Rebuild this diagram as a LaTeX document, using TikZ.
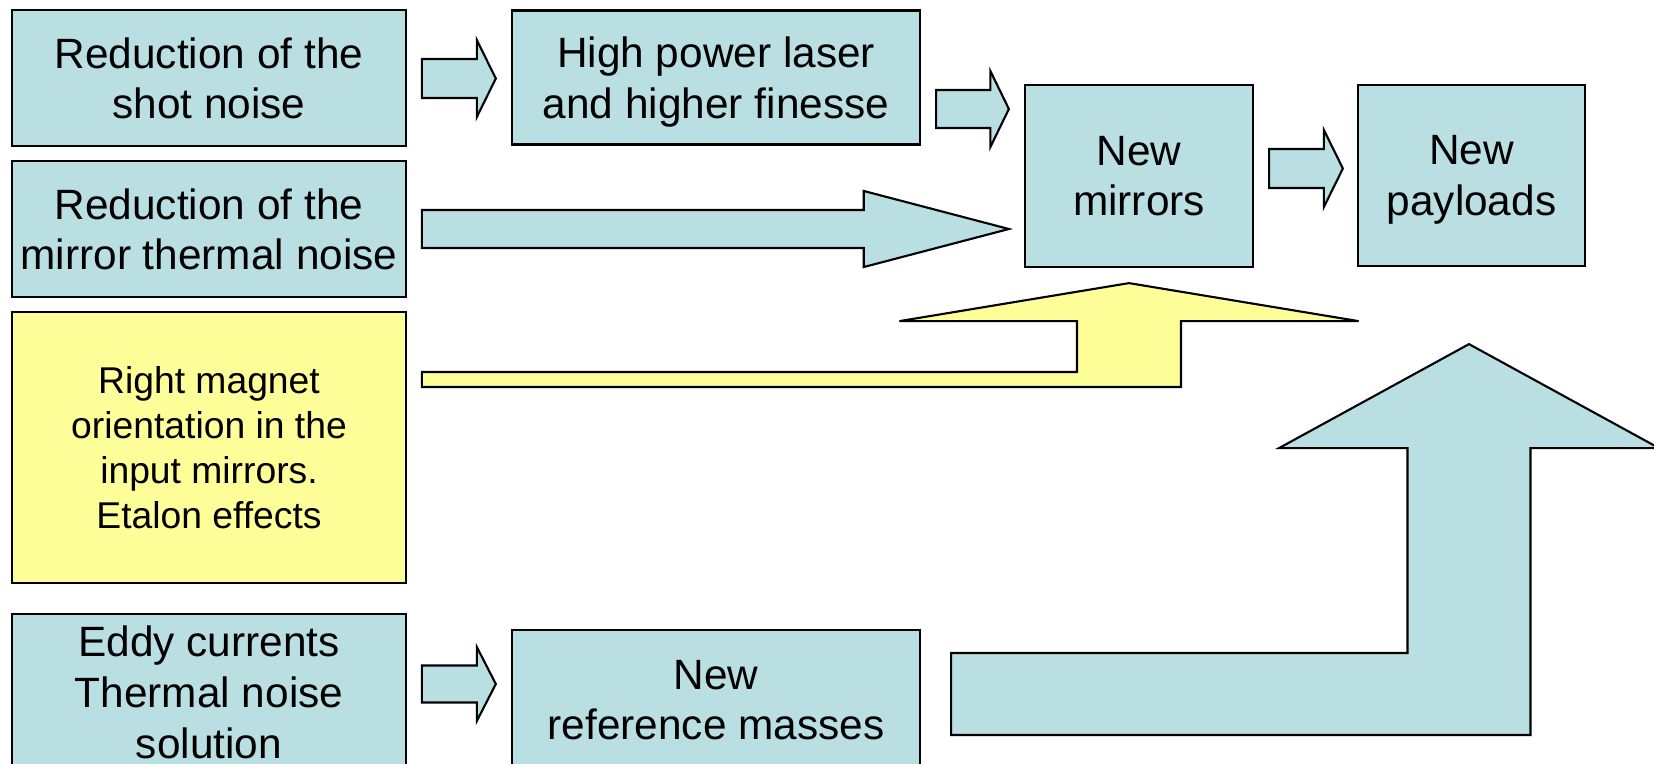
\documentclass[tikz,border=0pt]{standalone}
\usepackage{fontspec}
\setmainfont{Liberation Sans}
\usetikzlibrary{calc}
\definecolor{boxblue}{RGB}{186,223,226}
\definecolor{boxyellow}{RGB}{255,255,153}
\tikzset{
  outl/.style={draw=black, line width=0.6pt, line join=miter},
  bluebox/.style={outl, fill=boxblue, rectangle, align=center, inner xsep=0pt,
     text depth=-1.2pt, font=\fontsize{12.05}{14.4}\selectfont},
  yellowbox/.style={outl, fill=boxyellow, rectangle, align=center, inner xsep=0pt,
     text depth=-1.4pt, font=\fontsize{10.6}{12.8}\selectfont},
  bluearrow/.style={outl, fill=boxblue},
  yellowarrow/.style={outl, fill=boxyellow},
}
% #1 start coordinate, #2 end coordinate (x used), #3 shaft half, #4 head half, #5 head length, #6 style
\newcommand{\blockarr}[6]{%
  \draw[#6] let \p1=(#1), \p2=(#2) in
   (\x1,\y1+#3) -- (\x2-#5,\y1+#3) -- (\x2-#5,\y1+#4) -- (\x2,\y1)
   -- (\x2-#5,\y1-#4) -- (\x2-#5,\y1-#3) -- (\x1,\y1-#3) -- cycle;}
\begin{document}
\begin{tikzpicture}[x=0.01cm,y=-0.01cm]
\clip (0,0) rectangle (1654,763);
\fill[white] (0,0) rectangle (1654,763);

\node[bluebox, minimum width=3.935cm, minimum height=1.36cm] (A) at (209,78) {Reduction of the\\shot noise};
\node[bluebox, minimum width=3.935cm, minimum height=1.36cm] (B) at (209,229) {Reduction of the\\mirror thermal noise};
\node[yellowbox, minimum width=3.935cm, minimum height=2.71cm] (C) at (209,447.5) {Right magnet\\orientation in the\\input mirrors.\\Etalon effects};
\node[bluebox, minimum width=3.935cm, minimum height=1.56cm] (D) at (209,692) {Eddy currents\\Thermal noise\\solution};
\node[bluebox, minimum width=4.08cm, minimum height=1.34cm] (E) at (716,77.5) {High power laser\\and higher finesse};
\node[bluebox, minimum width=4.08cm, minimum height=1.40cm] (F) at (716,700) {New\\reference masses};
\node[bluebox, minimum width=2.28cm, minimum height=1.82cm] (G) at (1139,176) {New\\mirrors};
\node[bluebox, minimum width=2.27cm, minimum height=1.81cm] (H) at (1471.5,175.5) {New\\payloads};

% small block arrows
\coordinate (a1s) at ($(A.east)+(15,0.5)$);
\coordinate (a1e) at ($(E.west)+(-15,0)$);
\blockarr{a1s}{a1e}{0.195cm}{0.385cm}{0.19cm}{bluearrow}

\coordinate (a2s) at ($(E.east)+(15,31.5)$);
\coordinate (a2e) at ($(G.west)+(-15,0)$);
\blockarr{a2s}{a2e}{0.19cm}{0.38cm}{0.185cm}{bluearrow}

\coordinate (a3s) at ($(G.east)+(15,-7.5)$);
\coordinate (a3e) at ($(H.west)+(-14,0)$);
\blockarr{a3s}{a3e}{0.195cm}{0.385cm}{0.19cm}{bluearrow}

\coordinate (a4s) at ($(D.east)+(15,-8)$);
\coordinate (a4e) at ($(F.west)+(-15,0)$);
\blockarr{a4s}{a4e}{0.185cm}{0.37cm}{0.19cm}{bluearrow}

% long arrow B -> G
\coordinate (a5s) at ($(B.east)+(15,0)$);
\coordinate (a5e) at ($(G.west)+(-15,0)$);
\blockarr{a5s}{a5e}{0.19cm}{0.38cm}{1.45cm}{bluearrow}

% yellow bent arrow C -> G
\coordinate (ys) at ($(C.east)+(15,-68)$);
\coordinate (yt) at ($(G.south)+(-10,15)$);
\draw[yellowarrow] let \p1=(ys), \p2=(yt) in
  (\x1,\y1+0.075cm) -- (\x2-0.52cm,\y1+0.075cm) -- (\x2-0.52cm,\y2-0.38cm)
  -- (\x2-2.295cm,\y2-0.38cm) -- (\x2,\y2) -- (\x2+2.295cm,\y2-0.38cm)
  -- (\x2+0.52cm,\y2-0.38cm) -- (\x2+0.52cm,\y1-0.075cm) -- (\x1,\y1-0.075cm) -- cycle;

% big bent arrow F -> H
\coordinate (bs) at ($(F.east)+(30,-6)$);
\coordinate (bt) at ($(H.south)+(-2.5,77)$);
\draw[bluearrow] let \p1=(bs), \p2=(bt) in
  (\x1,\y1+0.41cm) -- (\x2-0.615cm,\y1+0.41cm) -- (\x2-0.615cm,\y2-1.04cm)
  -- (\x2-1.9cm,\y2-1.04cm) -- (\x2,\y2) -- (\x2+1.9cm,\y2-1.04cm)
  -- (\x2+0.615cm,\y2-1.04cm) -- (\x2+0.615cm,\y1-0.41cm) -- (\x1,\y1-0.41cm) -- cycle;
\end{tikzpicture}
\end{document}
